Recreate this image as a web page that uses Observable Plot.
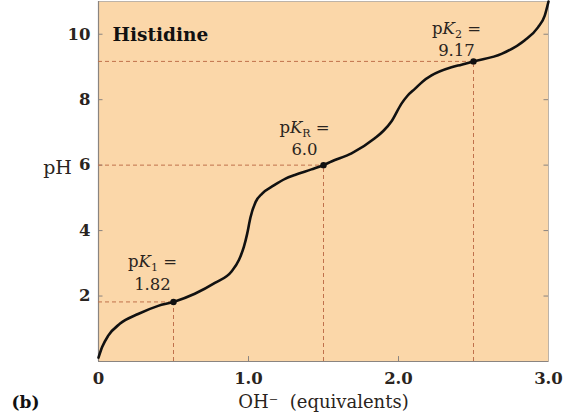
<!DOCTYPE html>
<html>
<head>
<meta charset="utf-8">
<script src="https://cdn.jsdelivr.net/npm/d3@7"></script>
<script src="https://cdn.jsdelivr.net/npm/@observablehq/plot@0.6"></script>
<style>
  html, body { margin: 0; padding: 0; background: #ffffff; }
</style>
</head>
<body>
<div id="chart"></div>
<script>
// Titration curve of histidine
const ohEquivalents = [0, 0.025, 0.065, 0.142, 0.264, 0.398, 0.5, 0.642, 0.776, 0.887, 0.936, 0.969, 0.991, 1.013, 1.047, 1.091, 1.169, 1.247, 1.309, 1.42, 1.5, 1.553, 1.687, 1.842, 1.9, 1.955, 2.02, 2.06, 2.109, 2.16, 2.22, 2.353, 2.42, 2.5, 2.687, 2.84, 2.93, 2.975, 3.0];
const phValues     = [0.12, 0.45, 0.79, 1.15, 1.45, 1.70, 1.82, 2.07, 2.40, 2.75, 3.10, 3.50, 3.90, 4.40, 4.87, 5.13, 5.38, 5.59, 5.70, 5.87, 6.0, 6.11, 6.36, 6.82, 7.05, 7.35, 7.88, 8.12, 8.33, 8.55, 8.74, 8.99, 9.07, 9.17, 9.40, 9.81, 10.21, 10.57, 11.0];

// pK points
const pkEquivalents = [0.5, 1.5, 2.5];
const pkValues = [1.82, 6.0, 9.17];
const pkSubscripts = ["1", "R", "2"];
const pkValueLabels = ["1.82", "6.0", "9.17"];

// Axis ticks
const xTicks = [0, 1, 2, 3];
const xTickLabels = ["0", "1.0", "2.0", "3.0"];
const yTicks = [2, 4, 6, 8, 10];

const curve = ohEquivalents.map((x, i) => ({x, pH: phValues[i]}));
const pk = pkEquivalents.map((x, i) => ({x, pH: pkValues[i], sub: pkSubscripts[i], label: pkValueLabels[i]}));

// label offsets (layout, in pixels) for each pK annotation
const labelLayout = [
  {dx: -21, dy1: -40, dy2: -17},
  {dx: -19, dy1: -37, dy2: -15},
  {dx: -17, dy1: -33, dy2: -11}
];

const dashColor = "#c0714c";
const textColor = "#2a2420";

const labelMarks = pk.flatMap((d, i) => [
  Plot.text([d], {x: "x", y: "pH", text: p => "pK" + p.sub + " =", dx: labelLayout[i].dx, dy: labelLayout[i].dy1, fontSize: 16.5, fill: textColor}),
  Plot.text([d], {x: "x", y: "pH", text: "label", dx: labelLayout[i].dx, dy: labelLayout[i].dy2, fontSize: 16.5, fill: textColor})
]);

const chart = Plot.plot({
  width: 566,
  height: 420,
  marginLeft: 98,
  marginRight: 18,
  marginTop: 1,
  marginBottom: 59,
  style: {background: "#ffffff", fontFamily: "DejaVu Serif", color: textColor},
  x: {domain: [0, 3]},
  y: {domain: [0, 11]},
  marks: [
    Plot.frame({fill: "#fbd7a9", stroke: "#bdb3a8", strokeWidth: 1}),
    Plot.ruleX([0], {stroke: "#8a8480", strokeWidth: 1.2}),
    Plot.ruleY([0], {stroke: "#8a8480", strokeWidth: 1.2}),
    // inward tick marks
    Plot.ruleY(yTicks, {x1: 0, x2: 0.03, stroke: "#8a8480"}),
    Plot.ruleY(yTicks, {x1: 2.97, x2: 3.0, stroke: "#8a8480"}),
    Plot.ruleX(xTicks.slice(1, 3), {y1: 0, y2: 0.15, stroke: "#8a8480"}),
    // dashed guides
    Plot.ruleY(pk, {y: "pH", x1: 0, x2: "x", stroke: dashColor, strokeWidth: 1, strokeDasharray: "4,3"}),
    Plot.ruleX(pk, {x: "x", y1: 0, y2: "pH", stroke: dashColor, strokeWidth: 1, strokeDasharray: "4,3"}),
    // curve
    Plot.line(curve, {x: "x", y: "pH", curve: "monotone-x", stroke: "#111111", strokeWidth: 2.6}),
    Plot.dot(pk, {x: "x", y: "pH", r: 3.2, fill: "#111111", stroke: "none"}),
    // labels
    ...labelMarks,
    Plot.text(["Histidine"], {frameAnchor: "top-left", dx: 14, dy: 26, textAnchor: "start", fontSize: 18.5, fontWeight: "bold", fill: "#111"}),
    // axes
    Plot.axisX(xTicks, {tickSize: 0, tickPadding: 11, tickFormat: d => xTickLabels[xTicks.indexOf(d)], fontSize: 16.5, fontWeight: "bold", fill: textColor, label: null}),
    Plot.axisY(yTicks, {tickSize: 0, tickPadding: 8, fontSize: 16.5, fontWeight: "bold", fill: textColor, label: null}),
    Plot.text(["pH"], {x: 0, y: 6, dx: -41, dy: 3, textAnchor: "middle", fontSize: 19, fill: textColor}),
    Plot.text(["OH\u207B  (equivalents)"], {frameAnchor: "bottom", dy: 46, fontSize: 18, fill: textColor}),
    Plot.text(["(b)"], {frameAnchor: "bottom-left", dx: -87, dy: 46, textAnchor: "start", fontSize: 17, fontWeight: "bold", fill: "#111"})
  ]
});

// italic K with subscript in the pK labels
d3.select(chart).selectAll("text").each(function () {
  const t = this.textContent;
  const m = t.match(/^pK(\w+) =$/);
  if (!m) return;
  const el = d3.select(this);
  el.text(null);
  el.append("tspan").text("p");
  el.append("tspan").attr("font-style", "italic").text("K");
  el.append("tspan").attr("font-size", 11).attr("dy", 4).text(m[1]);
  el.append("tspan").attr("dy", -4).text(" =");
});

document.getElementById("chart").appendChild(chart);
</script>
</body>
</html>
